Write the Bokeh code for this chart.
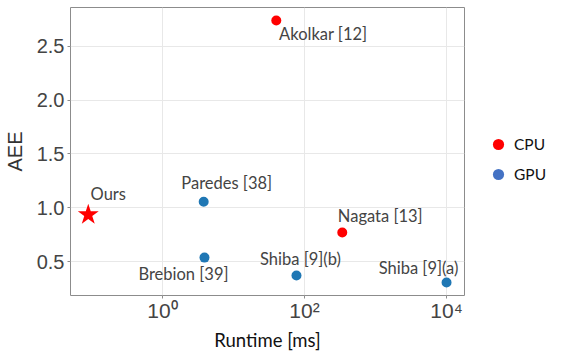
from bokeh.plotting import figure
from bokeh.layouts import row
from bokeh.models import ColumnDataSource, FixedTicker, CustomJSTickFormatter, Legend, LegendItem, Range1d, NumeralTickFormatter
from bokeh.core.properties import value
from bokeh.embed import file_html
from bokeh.resources import INLINE

# ---- data ----
methods = ["Ours", "Paredes [38]", "Brebion [39]", "Shiba [9](b)", "Shiba [9](a)", "Nagata [13]", "Akolkar [12]"]
runtime_ms = [0.09, 3.8, 3.9, 77, 10000, 340, 40]
aee = [0.935, 1.056, 0.537, 0.37, 0.305, 0.77, 2.74]
device = ["Ours", "GPU", "GPU", "GPU", "GPU", "CPU", "CPU"]
x_ticks = [1, 100, 10000]
y_ticks = [0.5, 1.0, 1.5, 2.0, 2.5]
legend_labels = ["CPU", "GPU"]

# ---- label styling (pixel offsets of label centres from the points) ----
label_dx = [20, 23, -21, 4, -28, 38, 47]
label_dy = [-21, -19, 16, -17, -15, -17, 14]

p = figure(frame_width=394, frame_height=288, x_axis_type="log",
           x_range=Range1d(0.0506, 17900), y_range=Range1d(0.185, 2.86),
           output_backend="svg", toolbar_location=None,
           min_border_left=61, min_border_right=2, min_border_top=7, min_border_bottom=56)
p.background_fill_color = "white"
p.border_fill_color = "white"
p.outline_line_color = "#8c8c8c"
p.outline_line_width = 1

def sel(kind):
    idx = [i for i, d in enumerate(device) if d == kind]
    return ColumnDataSource(dict(x=[runtime_ms[i] for i in idx], y=[aee[i] for i in idx]))

p.scatter("x", "y", source=sel("GPU"), size=10, color="#1f77b4", line_color=None)
p.scatter("x", "y", source=sel("CPU"), size=10, color="#ff0000", line_color=None)
p.scatter("x", "y", source=sel("Ours"), size=22, marker="star", color="#ff0000", line_color=None)

lab = ColumnDataSource(dict(x=runtime_ms, y=aee, t=methods, dx=label_dx, dy=label_dy))
p.text("x", "y", text="t", source=lab, x_offset="dx", y_offset="dy",
       text_font=value("Lato"), text_font_size="16.5px", text_color="#444444",
       text_align="center", text_baseline="middle")

# axes
p.xaxis.ticker = FixedTicker(ticks=x_ticks)
p.xaxis.formatter = CustomJSTickFormatter(code="""
const sup = {'0':'\u2070','1':'\u00b9','2':'\u00b2','3':'\u00b3','4':'\u2074','5':'\u2075','6':'\u2076','7':'\u2077','8':'\u2078','9':'\u2079','-':'\u207b'};
const e = Math.round(Math.log10(tick));
return '10' + String(e).split('').map(c => sup[c]).join('');
""")
p.yaxis.ticker = FixedTicker(ticks=y_ticks)
p.yaxis.formatter = NumeralTickFormatter(format="0.0")
for ax in (p.xaxis, p.yaxis):
    ax.axis_line_color = None
    ax.major_tick_line_color = "#8c8c8c"
    ax.major_tick_out = 3
    ax.major_tick_in = 0
    ax.minor_tick_line_color = None
    ax.major_label_text_font = "Liberation Sans"
    ax.major_label_text_font_size = "20px"
    ax.major_label_text_color = "#444444"
    ax.major_label_standoff = 3
p.xaxis.major_label_text_font_size = "21px"
p.xaxis.major_label_standoff = 0
p.xaxis.axis_label = "Runtime [ms]"
p.xaxis.axis_label_text_font = "Lato"
p.xaxis.axis_label_text_font_style = "normal"
p.xaxis.axis_label_text_font_size = "18.5px"
p.xaxis.axis_label_text_color = "#111111"
p.xaxis.axis_label_standoff = 4
p.yaxis.axis_label = "AEE"
p.yaxis.axis_label_text_font = "Liberation Sans"
p.yaxis.axis_label_text_font_style = "normal"
p.yaxis.axis_label_text_font_size = "20px"
p.yaxis.axis_label_text_color = "#333333"
p.yaxis.axis_label_standoff = 8

p.xgrid.grid_line_color = "#e8e8e8"
p.ygrid.grid_line_color = "#e8e8e8"
p.xgrid.ticker = FixedTicker(ticks=x_ticks)
p.ygrid.ticker = FixedTicker(ticks=y_ticks)

# ---- legend in its own small panel (swatch renderers sit outside the visible range) ----
lg = figure(width=97, height=351, output_backend="svg", toolbar_location=None,
            x_range=Range1d(0, 1), y_range=Range1d(0, 1),
            x_axis_location=None, y_axis_location=None,
            min_border_left=0, min_border_right=0, min_border_top=0, min_border_bottom=0)
lg.outline_line_color = None
lg.grid.visible = False
r_cpu = lg.scatter([-10], [-10], size=11, color="#ff0000", line_color=None)
r_gpu = lg.scatter([-10], [-10], size=11, color="#4472c4", line_color=None)
leg = Legend(items=[LegendItem(label=legend_labels[0], renderers=[r_cpu]),
                    LegendItem(label=legend_labels[1], renderers=[r_gpu])],
             location=(18, 105), padding=0, margin=0, spacing=2,
             glyph_width=28, glyph_height=28, label_height=28, label_standoff=2,
             label_text_font="Lato", label_text_font_size="15.5px", label_text_color="#111111",
             background_fill_alpha=0, border_line_color=None)
lg.add_layout(leg, "center")

layout = row(p, lg)
open("out.html", "w").write(file_html(layout, INLINE))
